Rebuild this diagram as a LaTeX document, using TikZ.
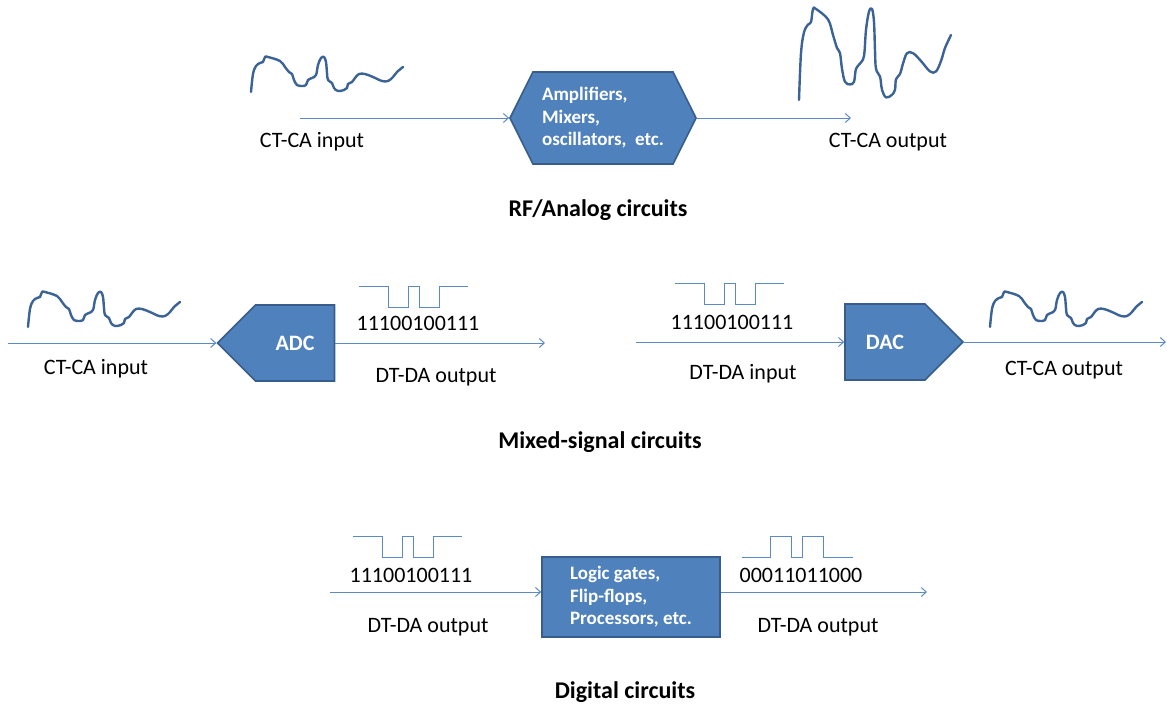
\documentclass[tikz,border=0pt]{standalone}
\usepackage{fontspec}
\setmainfont{Carlito}
\usetikzlibrary{shapes.symbols,arrows.meta}
\definecolor{boxblue}{HTML}{4F81BD}
\definecolor{edgeblue}{HTML}{385D8A}
\definecolor{waveblue}{HTML}{3B6396}
\definecolor{lineblue}{HTML}{5B8AC6}
\tikzstyle{box} = [draw=edgeblue, line width=1.6pt, fill=boxblue, text=white,
  align=left, inner sep=0pt, font=\bfseries\fontsize{19}{22.5}\selectfont]
\tikzstyle{conv} = [box, signal, signal pointer angle=90, minimum height=76,
  font=\bfseries\fontsize{22}{26}\selectfont]
\tikzstyle{arrow} = [lineblue, line width=1pt, -{Straight Barb[length=5pt,width=9pt]}]
\tikzstyle{lbl} = [font=\fontsize{22}{26}\selectfont]
\tikzstyle{title} = [font=\bfseries\fontsize{24}{28}\selectfont]
\tikzstyle{analog} = [waveblue, line width=2.4pt, line cap=round, line join=round]
\tikzstyle{digital} = [lineblue, line width=1pt]
% continuous wave, start point given, optional vertical gain
\newcommand{\analogwave}[2][1]{\draw[analog, shift={(#2)}, yscale=#1]
  plot[smooth, tension=0.6] coordinates {(0,0) (2,-18) (5,-26) (9,-29) (12,-30)
  (14,-35) (17,-35) (29,-31) (34,-25) (38,-20) (41,-18) (43,-12) (46,-7) (51,-6)
  (55,-7) (57,-12) (61,-14) (65,-17) (67,-27) (70,-34) (73,-35) (75,-30) (76,-19)
  (77,-12) (81,-9) (83,-4) (87,-1) (93,-2) (96,-4) (97,-8) (101,-10) (104,-14)
  (108,-18) (114,-18) (122,-15) (131,-11) (137,-11) (142,-15) (146,-20) (152,-25)};}
% 11100100111
\newcommand{\bitsone}[1]{\draw[digital] (#1) -- ++(29,0) -- ++(0,21) -- ++(20,0)
  -- ++(0,-21) -- ++(11,0) -- ++(0,21) -- ++(20,0) -- ++(0,-21) -- ++(29,0);}
% 00011011000
\newcommand{\bitstwo}[1]{\draw[digital] (#1) -- ++(28,0) -- ++(0,-21) -- ++(21,0)
  -- ++(0,21) -- ++(11,0) -- ++(0,-21) -- ++(21,0) -- ++(0,21) -- ++(30,0);}
\begin{document}
\begin{tikzpicture}[x=1pt, y=-1pt]
\useasboundingbox (0,0) rectangle (1167,705);

% RF / analog
\node[box, signal, signal to=east and west, signal pointer angle=127,
  minimum width=186, minimum height=92] (amp) at (603,118)
  {Amplifiers,\\Mixers,\\oscillators,~ etc.};
\coordinate (ainp) at (300,118);
\coordinate (aout) at (851,118);
\draw[arrow] (ainp) -- (amp.west);
\draw[arrow] (amp.east) -- (aout);
\analogwave{251,92}
\analogwave[2.6]{799,100}
\node[lbl] (ainl) at (312,142) {CT-CA input};
\node[lbl] (aoutl) at (888,142) {CT-CA output};
\node[title] (rft) at (598,210) {RF/Analog circuits};

% mixed signal
\node[conv, signal to=west, minimum width=117] (adc) at (295,343) {ADC};
\node[conv, signal to=east, minimum width=118] (dac) at (885,342) {DAC};
\coordinate (minp) at (8,343);
\coordinate (mmid) at (545,343);
\coordinate (dinp) at (636,342);
\coordinate (dout) at (1166,342);
\draw[arrow] (minp) -- (adc.west);
\draw[arrow] (adc.east) -- (mmid);
\draw[arrow] (dinp) -- (dac.west);
\draw[arrow] (dac.east) -- (dout);
\analogwave{28,327}
\analogwave{990,327}
\bitsone{359,286}
\bitsone{675,283}
\node[lbl] (bits1) at (418,323) {11100100111};
\node[lbl] (bits2) at (732,322) {11100100111};
\node[lbl] (minl) at (96,369) {CT-CA input};
\node[lbl] (mmidl) at (436,377) {DT-DA output};
\node[lbl] (dinl) at (743,374) {DT-DA input};
\node[lbl] (doutl) at (1064,370) {CT-CA output};
\node[title] (mst) at (600,442) {Mixed-signal circuits};

% digital
\node[box, rectangle, minimum width=178, minimum height=80] (logic) at (631,597)
  {Logic gates,\\Flip-flops,\\Processors, etc.};
\coordinate (linp) at (330,592);
\coordinate (lout) at (927,592);
\draw[arrow] (linp) -- (logic.west |- linp);
\draw[arrow] (logic.east |- lout) -- (lout);
\bitsone{353,536}
\bitstwo{742,557}
\node[lbl] (bits3) at (411,575) {11100100111};
\node[lbl] (bits4) at (801,575) {00011011000};
\node[lbl] (linl) at (428,627) {DT-DA output};
\node[lbl] (loutl) at (818,627) {DT-DA output};
\node[title] (dgt) at (625,692) {Digital circuits};
\end{tikzpicture}
\end{document}
